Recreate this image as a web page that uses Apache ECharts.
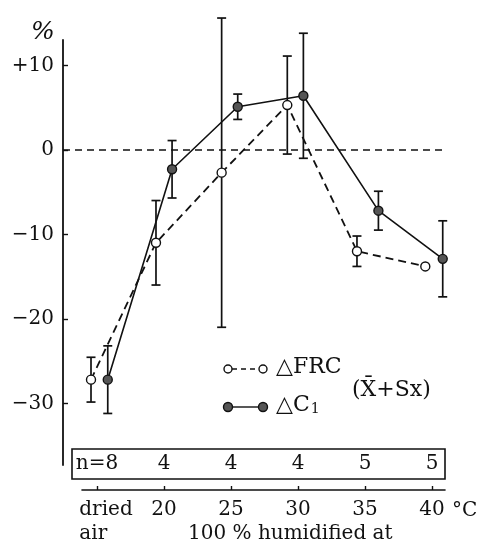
<!DOCTYPE html>
<html>
<head>
<meta charset="utf-8">
<script src="https://cdn.jsdelivr.net/npm/echarts@6/dist/echarts.min.js"></script>
<style>
  html, body { margin: 0; padding: 0; background: #fff; }
  #chart { width: 479px; height: 548px; }
</style>
</head>
<body>
<div id="chart"></div>
<script>
// tick positions on the temperature scale ("dried air" sits one step before 20)
const tempTicks = [15, 20, 25, 30, 35, 40]
const tempLabels = ['dried\nair', '20', '25', '30', '35', '40']
const nCounts = [8, 4, 4, 4, 5, 5]
const yTicks = [10, 0, -10, -20, -30]

// ΔFRC (open circles, dashed)
const frcX = [14.55, 19.4, 24.3, 29.2, 34.4, 39.5]
const frcMean = [-27.2, -11.0, -2.7, 5.3, -12.0, -13.8]
const frcSx = [2.65, 5.0, 18.3, 5.8, 1.8, null]

// ΔC1 (filled circles, solid)
const c1X = [15.8, 20.6, 25.5, 30.4, 36.0, 40.8]
const c1Mean = [-27.2, -2.3, 5.1, 6.4, -7.2, -12.9]
const c1Sx = [4.0, 3.4, 1.5, 7.4, 2.3, 4.5]

const font = 'DejaVu Serif'
const ink = '#111'

const chart = echarts.init(document.getElementById('chart'))

const pairs = (xs, ys) => xs.map((x, i) => [x, ys[i]])
const errData = (xs, ys, sx) =>
  xs.map((x, i) => sx[i] == null ? null : [x, ys[i] - sx[i], ys[i] + sx[i]]).filter(d => d)

const errorBar = (capHalf) => (params, api) => {
  const x = api.value(0)
  const top = api.coord([x, api.value(2)])
  const bot = api.coord([x, api.value(1)])
  const style = { stroke: ink, lineWidth: 1.7 }
  return {
    type: 'group',
    children: [
      { type: 'line', shape: { x1: top[0], y1: top[1], x2: bot[0], y2: bot[1] }, style },
      { type: 'line', shape: { x1: top[0] - capHalf, y1: top[1], x2: top[0] + capHalf, y2: top[1] }, style },
      { type: 'line', shape: { x1: bot[0] - capHalf, y1: bot[1], x2: bot[0] + capHalf, y2: bot[1] }, style }
    ]
  }
}

const labelFont = { fontFamily: font, fontSize: 20, color: ink }

const option = {
  animation: false,
  backgroundColor: '#fff',
  grid: [
    { left: 63, right: 34, top: 40, bottom: 83 },
    { left: 82, right: 34, top: 449, bottom: 58 }
  ],
  xAxis: [
    { gridIndex: 0, type: 'value', min: 12.46, max: 40.97, show: false },
    {
      gridIndex: 1, type: 'value', min: 13.88, max: 40.97, position: 'bottom',
      axisLine: { show: true, lineStyle: { color: ink, width: 1.6 } },
      axisTick: { show: true, inside: true, length: 4, customValues: tempTicks, lineStyle: { color: ink, width: 1.4 } },
      axisLabel: {
        customValues: tempTicks,
        margin: 8,
        ...labelFont,
        lineHeight: 24,
        formatter: v => {
          const t = tempLabels[tempTicks.indexOf(v)]
          return v === 15 ? '{d|dried}\n{d|air}' : t
        },
        rich: { d: { fontFamily: font, fontSize: 20, color: ink, align: 'left', padding: [0, 0, 0, 18], lineHeight: 24 } }
      },
      splitLine: { show: false }
    },
    {
      gridIndex: 1, type: 'value', min: 13.88, max: 40.97, position: 'top',
      axisLine: { show: false },
      axisTick: { show: false },
      axisLabel: {
        inside: true,
        margin: 5,
        customValues: tempTicks,
        ...labelFont,
        formatter: v => {
          const i = tempTicks.indexOf(v)
          return i === 0 ? 'n=' + nCounts[i] : String(nCounts[i])
        }
      },
      splitLine: { show: false }
    }
  ],
  yAxis: [
    {
      gridIndex: 0, type: 'value', min: -37.3, max: 13,
      axisLine: { show: true, lineStyle: { color: ink, width: 1.8 } },
      axisTick: { show: true, inside: true, length: 5, customValues: yTicks, lineStyle: { color: ink, width: 1.4 } },
      axisLabel: {
        customValues: yTicks,
        margin: 9,
        ...labelFont,
        formatter: v => v > 0 ? '+' + v : v < 0 ? '\u2212' + Math.abs(v) : '0'
      },
      splitLine: { show: false }
    },
    { gridIndex: 1, type: 'value', min: 0, max: 1, show: false }
  ],
  series: [
    {
      name: 'ΔFRC err', type: 'custom', xAxisIndex: 0, yAxisIndex: 0,
      renderItem: errorBar(4.5), data: errData(frcX, frcMean, frcSx), z: 2, silent: true
    },
    {
      name: 'ΔC1 err', type: 'custom', xAxisIndex: 0, yAxisIndex: 0,
      renderItem: errorBar(4.5), data: errData(c1X, c1Mean, c1Sx), z: 2, silent: true
    },
    {
      name: 'ΔFRC', type: 'line', xAxisIndex: 0, yAxisIndex: 0,
      data: pairs(frcX, frcMean),
      symbol: 'circle', symbolSize: 9,
      itemStyle: { color: '#fff', borderColor: ink, borderWidth: 1.4 },
      lineStyle: { color: ink, width: 1.8, type: [8, 5] },
      z: 4,
      markLine: {
        silent: true, symbol: 'none', label: { show: false },
        lineStyle: { color: ink, width: 1.7, type: [7, 5] },
        data: [{ yAxis: 0 }]
      }
    },
    {
      name: 'ΔC1', type: 'line', xAxisIndex: 0, yAxisIndex: 0,
      data: pairs(c1X, c1Mean),
      symbol: 'circle', symbolSize: 9,
      itemStyle: { color: '#555', borderColor: ink, borderWidth: 1.4 },
      lineStyle: { color: ink, width: 1.6 },
      z: 5
    }
  ],
  graphic: [
    { type: 'text', left: 31, top: 20, style: { text: '%', font: 'italic 25px "DejaVu Serif"', fill: ink } },
    // n table frame
    { type: 'rect', shape: { x: 72, y: 449, width: 373, height: 30 }, style: { fill: 'none', stroke: ink, lineWidth: 1.6 } },
    // legend
    { type: 'line', shape: { x1: 232, y1: 369, x2: 259, y2: 369 }, style: { stroke: ink, lineWidth: 1.5, lineDash: [5, 4] } },
    { type: 'circle', shape: { cx: 228, cy: 369, r: 4 }, style: { fill: '#fff', stroke: ink, lineWidth: 1.4 } },
    { type: 'circle', shape: { cx: 263, cy: 369, r: 4 }, style: { fill: '#fff', stroke: ink, lineWidth: 1.4 } },
    { type: 'text', left: 276, top: 356, style: { text: '\u25B3FRC', font: '22px "DejaVu Serif"', fill: ink } },
    { type: 'line', shape: { x1: 232, y1: 407, x2: 259, y2: 407 }, style: { stroke: ink, lineWidth: 1.4 } },
    { type: 'circle', shape: { cx: 228, cy: 407, r: 4.5 }, style: { fill: '#555', stroke: ink, lineWidth: 1.4 } },
    { type: 'circle', shape: { cx: 263, cy: 407, r: 4.5 }, style: { fill: '#555', stroke: ink, lineWidth: 1.4 } },
    {
      type: 'text', left: 276, top: 394,
      style: {
        text: '{a|\u25B3C}{s|1}',
        rich: {
          a: { fontFamily: font, fontSize: 22, fill: ink, color: ink },
          s: { fontFamily: font, fontSize: 14, fill: ink, color: ink, verticalAlign: 'bottom', padding: [6, 0, 0, 1] }
        }
      }
    },
    { type: 'text', left: 352, top: 379, style: { text: '(X\u0304+Sx)', font: '22px "DejaVu Serif"', fill: ink } },
    // axis units and title
    { type: 'text', left: 452, top: 501, style: { text: '\u00B0C', font: '20px "DejaVu Serif"', fill: ink } },
    { type: 'text', left: 188, top: 524, style: { text: '100 % humidified at', font: '20px "DejaVu Serif"', fill: ink } }
  ]
}

chart.setOption(option)
</script>
</body>
</html>
